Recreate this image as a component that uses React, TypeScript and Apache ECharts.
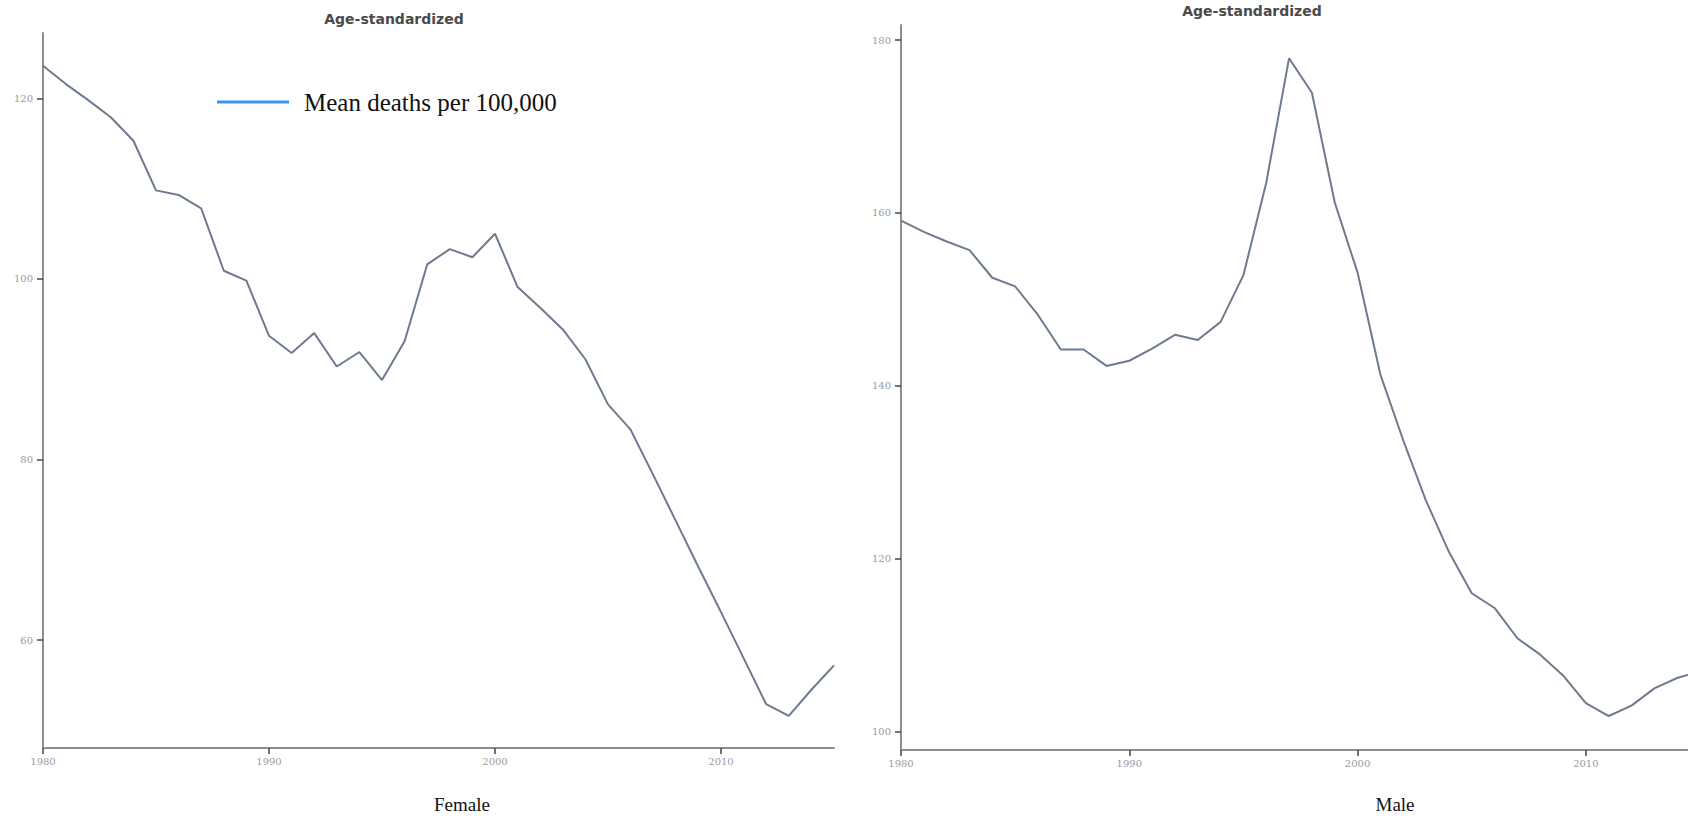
import React, { useEffect, useRef } from "react";
import * as echarts from "echarts";

const years = [
  1980, 1981, 1982, 1983, 1984, 1985, 1986, 1987, 1988, 1989,
  1990, 1991, 1992, 1993, 1994, 1995, 1996, 1997, 1998, 1999,
  2000, 2001, 2002, 2003, 2004, 2005, 2006, 2007, 2008, 2009,
  2010, 2011, 2012, 2013, 2014, 2015,
];

const femaleValues = [
  123.6, 121.6, 119.8, 117.9, 115.3, 109.8, 109.3, 107.8, 100.9, 99.8,
  93.7, 91.8, 94.0, 90.3, 91.9, 88.8, 93.1, 101.6, 103.3, 102.4,
  105.0, 99.1, 96.8, 94.4, 91.1, 86.1, 83.3, 78.3, 73.2, 68.1,
  63.1, 58.0, 52.9, 51.6, 54.5, 57.2,
];

const maleValues = [
  159.1, 157.8, 156.7, 155.7, 152.5, 151.5, 148.2, 144.2, 144.2, 142.3,
  142.9, 144.3, 145.9, 145.3, 147.4, 152.8, 163.5, 177.9, 173.9, 161.2,
  153.1, 141.3, 133.7, 126.7, 120.8, 116.0, 114.3, 110.8, 108.9, 106.5,
  103.3, 101.8, 103.0, 105.0, 106.2, 107.0,
];

const xTicks = [1980, 1990, 2000, 2010];
const femaleTicks = [60, 80, 100, 120];
const maleTicks = [100, 120, 140, 160, 180];

const seriesName = "Mean deaths per 100,000";
const panelTitle = "Age-standardized";
const femaleLabel = "Female";
const maleLabel = "Male";

export default function App() {
  const ref = useRef<HTMLDivElement>(null);

  useEffect(() => {
    if (!ref.current) return;
    const chart = echarts.init(ref.current, undefined, { renderer: "svg" });

    const axisLineStyle = { color: "#8e8e8e", width: 2 };
    const tickStyle = { color: "#444", width: 1.5 };
    const labelStyle = {
      color: "#9a9a9a",
      fontFamily: "DejaVu Serif",
      fontSize: 10,
    };

    const makeX = (gridIndex: number) => ({
      type: "value",
      gridIndex,
      min: 1980,
      max: 2015,
      axisLine: { show: true, onZero: false, lineStyle: axisLineStyle },
      axisTick: { show: true, length: 6, lineStyle: tickStyle, customValues: xTicks },
      axisLabel: {
        ...labelStyle,
        margin: 8,
        customValues: xTicks,
        formatter: (v: number) => String(v),
      },
      splitLine: { show: false },
    });

    const makeY = (gridIndex: number, min: number, max: number, ticks: number[]) => ({
      type: "value",
      gridIndex,
      min,
      max,
      axisLine: { show: true, onZero: false, lineStyle: axisLineStyle },
      axisTick: { show: true, length: 6, lineStyle: tickStyle, customValues: ticks },
      axisLabel: {
        ...labelStyle,
        margin: 10,
        customValues: ticks,
        formatter: (v: number) => String(v),
      },
      splitLine: { show: false },
    });

    const lineColor = "#6e7a90";

    const textEl = (x: number, y: number, text: string, font: string, fill: string) => ({
      type: "text",
      x,
      y,
      style: {
        text,
        font,
        fill,
        textAlign: "center",
        textVerticalAlign: "middle",
        align: "center",
        verticalAlign: "middle",
      },
    });

    chart.setOption({
      animation: false,
      backgroundColor: "#ffffff",
      grid: [
        {
          left: 43,
          top: 33,
          width: 791,
          height: 715,
          containLabel: false,
          outerBoundsMode: "none",
        },
        {
          left: 901,
          top: 25,
          width: 799,
          height: 725,
          containLabel: false,
          outerBoundsMode: "none",
        },
      ],
      xAxis: [makeX(0), makeX(1)],
      yAxis: [
        makeY(0, 48.05, 127.23, femaleTicks),
        makeY(1, 97.87, 181.74, maleTicks),
      ],
      legend: {
        show: true,
        left: 217,
        top: 88,
        padding: 0,
        icon: "rect",
        itemWidth: 72,
        itemHeight: 3,
        selectedMode: false,
        data: [{ name: seriesName, itemStyle: { color: "#3d93f0" } }],
        textStyle: {
          fontFamily: "'Liberation Serif', serif",
          fontSize: 25,
          color: "#111",
          lineHeight: 28,
          padding: [0, 0, 0, 10],
        },
      },
      series: [
        {
          name: seriesName,
          type: "line",
          xAxisIndex: 0,
          yAxisIndex: 0,
          showSymbol: false,
          symbol: "none",
          data: years.map((y, i) => [y, femaleValues[i]]),
          lineStyle: { color: lineColor, width: 2 },
          itemStyle: { color: "#3d93f0" },
        },
        {
          name: seriesName,
          type: "line",
          xAxisIndex: 1,
          yAxisIndex: 1,
          showSymbol: false,
          symbol: "none",
          data: years.map((y, i) => [y, maleValues[i]]),
          lineStyle: { color: lineColor, width: 2 },
          itemStyle: { color: "#3d93f0" },
        },
      ],
      graphic: [
        textEl(394, 19, panelTitle, "bold 14px 'DejaVu Sans', sans-serif", "#4a4a4a"),
        textEl(1252, 11, panelTitle, "bold 14px 'DejaVu Sans', sans-serif", "#4a4a4a"),
        textEl(462, 804, femaleLabel, "19px 'Liberation Serif', serif", "#111"),
        textEl(1395, 804, maleLabel, "19px 'Liberation Serif', serif", "#111"),
      ],
    });

    return () => {
      chart.dispose();
    };
  }, []);

  return (
    <div
      ref={ref}
      style={{ position: "absolute", left: 0, top: 0, width: 1688, height: 819 }}
    />
  );
}
